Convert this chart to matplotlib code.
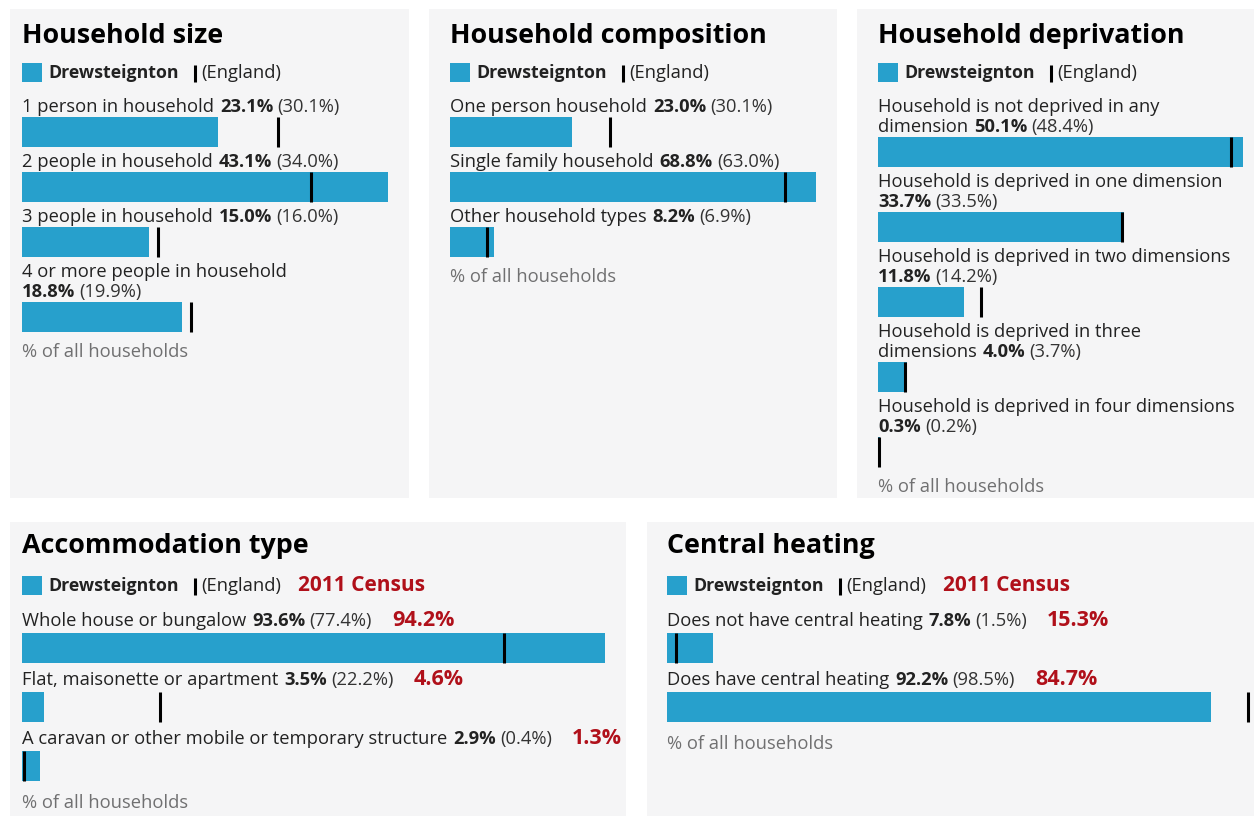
import matplotlib
matplotlib.use("Agg")
import matplotlib.pyplot as plt
import matplotlib.transforms as mtransforms
from matplotlib.patches import Rectangle

plt.rcParams['font.family'] = ['Open Sans', 'DejaVu Sans']

BLUE = '#27a0cc'
PANEL_BG = '#f5f5f6'
TEXT = '#222222'
GREY = '#707071'
RED = '#b0101a'

W, H = 1254, 816

area_name = 'Drewsteignton'
compare_name = '(England)'
census_name = '2011 Census'
footer = '% of all households'

# household size
size_labels = ['1 person in household', '2 people in household',
               '3 people in household', '4 or more people in household\n']
size_local = [23.1, 43.1, 15.0, 18.8]
size_england = [30.1, 34.0, 16.0, 19.9]

# household composition
comp_labels = ['One person household', 'Single family household',
               'Other household types']
comp_local = [23.0, 68.8, 8.2]
comp_england = [30.1, 63.0, 6.9]

# household deprivation
dep_labels = ['Household is not deprived in any\ndimension',
              'Household is deprived in one dimension\n',
              'Household is deprived in two dimensions\n',
              'Household is deprived in three\ndimensions',
              'Household is deprived in four dimensions\n']
dep_local = [50.1, 33.7, 11.8, 4.0, 0.3]
dep_england = [48.4, 33.5, 14.2, 3.7, 0.2]

# accommodation type
acc_labels = ['Whole house or bungalow', 'Flat, maisonette or apartment',
              'A caravan or other mobile or temporary structure']
acc_local = [93.6, 3.5, 2.9]
acc_england = [77.4, 22.2, 0.4]
acc_2011 = [94.2, 4.6, 1.3]

# central heating
heat_labels = ['Does not have central heating', 'Does have central heating']
heat_local = [7.8, 92.2]
heat_england = [1.5, 98.5]
heat_2011 = [15.3, 84.7]

# layout in pixels: panel box, bar start/end, text baselines
panels = [
    dict(title='Household size', labels=size_labels, local=size_local,
         england=size_england, census=None,
         box=(10, 9, 409, 498), bar=(22, 388), title_y=43, legend_y=78,
         first_y=112, bar_gap=5, row_gap=20),
    dict(title='Household composition', labels=comp_labels, local=comp_local,
         england=comp_england, census=None,
         box=(429, 9, 837, 498), bar=(450, 816), title_y=43, legend_y=78,
         first_y=112, bar_gap=5, row_gap=20),
    dict(title='Household deprivation', labels=dep_labels, local=dep_local,
         england=dep_england, census=None,
         box=(857, 9, 1254, 498), bar=(878, 1243), title_y=43, legend_y=78,
         first_y=112, bar_gap=5, row_gap=20),
    dict(title='Accommodation type', labels=acc_labels, local=acc_local,
         england=acc_england, census=acc_2011,
         box=(10, 522, 626, 816), bar=(22, 605), title_y=553, legend_y=591,
         first_y=626, bar_gap=7, row_gap=22),
    dict(title='Central heating', labels=heat_labels, local=heat_local,
         england=heat_england, census=heat_2011,
         box=(647, 522, 1254, 816), bar=(667, 1248), title_y=553, legend_y=591,
         first_y=626, bar_gap=7, row_gap=22),
]

LINE = 20
BAR_H = 30
FS = 13.2
SPACE = 6

fig = plt.figure(figsize=(W / 100, H / 100), dpi=100, facecolor='white')
renderer = fig.canvas.get_renderer()


def runs(ax, x, y, parts):
    """draw text pieces one after another on one baseline, x in pixels"""
    tr = mtransforms.blended_transform_factory(mtransforms.IdentityTransform(), ax.transData)
    for s, props, gap in parts:
        x += gap
        if not s:
            continue
        t = ax.text(x, y, s, transform=tr, va='baseline', ha='left', **props)
        x = t.get_window_extent(renderer).x1
    return x


for p in panels:
    x0, y0, x1, y1 = p['box']
    b0, b1 = p['bar']
    vmax = max(max(p['local']), max(p['england']))
    scale = (b1 - b0) / vmax
    ax = fig.add_axes([x0 / W, 1 - y1 / H, (x1 - x0) / W, (y1 - y0) / H])
    ax.set_facecolor(PANEL_BG)
    ax.set_xlim(-(b0 - x0) / scale, (x1 - b0) / scale)
    ax.set_ylim(y1, y0)
    ax.set_xticks([])
    ax.set_yticks([])
    for sp in ax.spines.values():
        sp.set_visible(False)
    tr = mtransforms.blended_transform_factory(mtransforms.IdentityTransform(), ax.transData)

    # title
    ax.text(b0, p['title_y'], p['title'], transform=tr, fontsize=19.4,
            fontweight='bold', color='black', va='baseline')

    # legend
    ly = p['legend_y']
    ax.add_patch(Rectangle((b0, ly - 15), 20, 19, transform=tr, color=BLUE, lw=0))
    xe = runs(ax, b0 + 26, ly, [(area_name, dict(fontsize=12.8, fontweight='bold', color=TEXT), 0)])
    ax.vlines(xe + 16, ly - 13, ly + 4, transform=tr, colors='black', lw=2.2)
    xe = runs(ax, xe + 23, ly, [(compare_name, dict(fontsize=FS, color=TEXT), 0)])
    if p['census'] is not None:
        runs(ax, xe, ly, [(census_name, dict(fontsize=15, fontweight='bold', color=RED), 17)])

    # rows
    y = p['first_y']
    for i, lab in enumerate(p['labels']):
        lines = lab.split('\n')
        for ln in lines[:-1]:
            runs(ax, b0, y, [(ln, dict(fontsize=FS, color=TEXT), 0)])
            y += LINE
        last = lines[-1]
        parts = [(last, dict(fontsize=FS, color=TEXT), 0),
                 ('%.1f%%' % p['local'][i], dict(fontsize=FS, fontweight='bold', color=TEXT),
                  SPACE if last else 0),
                 ('(%.1f%%)' % p['england'][i], dict(fontsize=FS, color='#333333'), 4)]
        xe = runs(ax, b0, y, parts)
        if p['census'] is not None:
            runs(ax, xe, y, [('%.1f%%' % p['census'][i],
                              dict(fontsize=15.5, fontweight='bold', color=RED), 20)])
        top = y + p['bar_gap']
        ax.barh(top + BAR_H / 2, p['local'][i], height=BAR_H, left=0, color=BLUE)
        ax.vlines(p['england'][i], top, top + BAR_H, colors='black', lw=2.2)
        y = top + BAR_H + p['row_gap']

    # footer
    runs(ax, b0, y + 5, [(footer, dict(fontsize=FS, color=GREY), 0)])

fig.savefig('out.png', dpi=100, facecolor='white')
